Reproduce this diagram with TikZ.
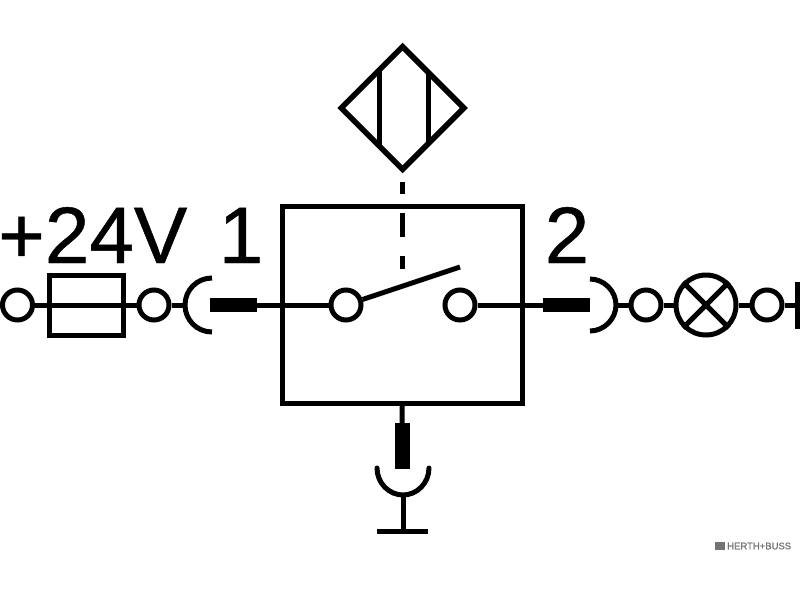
\documentclass[tikz,border=0pt]{standalone}
\usepackage{fontspec}
\setmainfont{Liberation Sans}
\newfontfamily\heavyfont[FakeBold=0.6]{Liberation Sans}
\newfontfamily\markfont[FakeBold=0.8]{Liberation Sans}
\usetikzlibrary{shapes.geometric}
\tikzset{
  wire/.style={line width=5pt,draw=black},
  term/.style={circle,draw=black,line width=5pt,fill=white,minimum size=30pt,inner sep=0pt},
  lampbox/.style={circle,draw=black,line width=5pt,fill=white,minimum size=60pt,inner sep=0pt},
  plugh/.style={rectangle,fill=black,minimum width=47pt,minimum height=14pt,inner sep=0pt},
  plugv/.style={rectangle,fill=black,minimum width=15pt,minimum height=46pt,inner sep=0pt},
  bigtext/.style={font=\heavyfont\fontsize{80}{80}\selectfont,anchor=base,inner sep=0pt,text=black},
}
\begin{document}
\begin{tikzpicture}[x=1pt,y=-1pt]
\useasboundingbox (0,0) rectangle (800,600);
\fill[white] (0,0) rectangle (800,600);
% coordinates
\coordinate (sockLtop) at (212,278);
\coordinate (sockLmid) at (185,305);
\coordinate (sockLbot) at (212,332);
\coordinate (sockRtop) at (590,279);
\coordinate (sockRmid) at (616,305);
\coordinate (sockRbot) at (590,331);
\coordinate (armEnd) at (460,267);
\coordinate (dashTop) at (402,182);
\coordinate (dashEnd) at (402,269);
\coordinate (sockBl) at (377,468);
\coordinate (sockBm) at (403,495);
\coordinate (sockBr) at (429,468);
\coordinate (gndL) at (377,531);
\coordinate (gndM) at (403,531);
\coordinate (gndR) at (428,531);
\coordinate (endBar) at (797.5,305);
% nodes
\node[term] (t1) at (17.5,305) {};
\node[draw=black,line width=5pt,minimum width=74pt,minimum height=60pt,inner sep=0pt] (fuse) at (86,305) {};
\node[term] (t2) at (154,305) {};
\node[plugh] (plugL) at (233.5,305) {};
\node[draw=black,line width=5pt,minimum width=240pt,minimum height=197pt,inner sep=0pt] (box) at (402,304.5) {};
\node[term] (ca) at (346,305) {};
\node[term] (cb) at (460,305) {};
\node[plugh] (plugR) at (566.5,305) {};
\node[term] (t3) at (646,305) {};
\node[lampbox] (lamp) at (706,305) {};
\node[term] (t4) at (767,305) {};
\node[plugv] (plugB) at (402.5,446) {};
\node[diamond,draw=black,line width=5.5pt,aspect=1,minimum size=125pt,inner sep=0pt] (sensor) at (402.5,108) {};
% wires
\draw[wire] (t1) -- (fuse.west);
\draw[wire] (fuse.west) -- (fuse.east);
\draw[wire] (fuse.east) -- (t2);
\draw[wire] (t2) -- (sockLmid);
\draw[wire] (plugL) -- (ca);
\draw[wire] (cb) -- (plugR);
\draw[wire] (sockRmid) -- (t3);
\draw[wire] (t3) -- (lamp);
\draw[wire] (lamp) -- (t4);
\draw[wire] (t4) -- (endBar);
\draw[wire] (box.south) -- (plugB);
\draw[wire] (sockBm) -- (gndM);
\draw[wire] (ca) -- (armEnd);
\draw[wire,dash pattern=on 12pt off 19pt on 24pt off 19pt on 13pt] (dashTop) -- (dashEnd);
% sockets
\draw[wire] (sockLtop) .. controls (197,278) and (185,290) .. (sockLmid) .. controls (185,320) and (197,332) .. (sockLbot);
\draw[wire] (sockRtop) .. controls (604,279) and (616,291) .. (sockRmid) .. controls (616,319) and (604,331) .. (sockRbot);
\draw[wire,line cap=round] (sockBl) .. controls (377,483) and (389,495) .. (sockBm) .. controls (417,495) and (429,483) .. (sockBr);
\draw[wire] (gndL) -- (gndR);
% lamp cross
\draw[wire] (lamp.45) -- (lamp.225);
\draw[wire] (lamp.135) -- (lamp.315);
% sensor plates
\coordinate (pa1) at (379,69);
\coordinate (pa2) at (379,147);
\coordinate (pb1) at (428,72);
\coordinate (pb2) at (428,144);
\draw[wire] (pa1) -- (pa2);
\draw[wire] (pb1) -- (pb2);
% end bar
\fill[black] (795,282) rectangle (800,329);
% labels
\node[bigtext,anchor=base west] (lv) at (-2,263) {+24V};
\node[bigtext] (l1) at (241,263) {1};
\node[bigtext] (l2) at (567,263) {2};
% watermark
\fill[black!55] (715,542) rectangle (725,550);
\node[anchor=west,inner sep=0pt,text=black!55,font=\markfont\fontsize{9.5}{10}\selectfont] (wm) at (727,546) {HERTH+BUSS};
\end{tikzpicture}
\end{document}
